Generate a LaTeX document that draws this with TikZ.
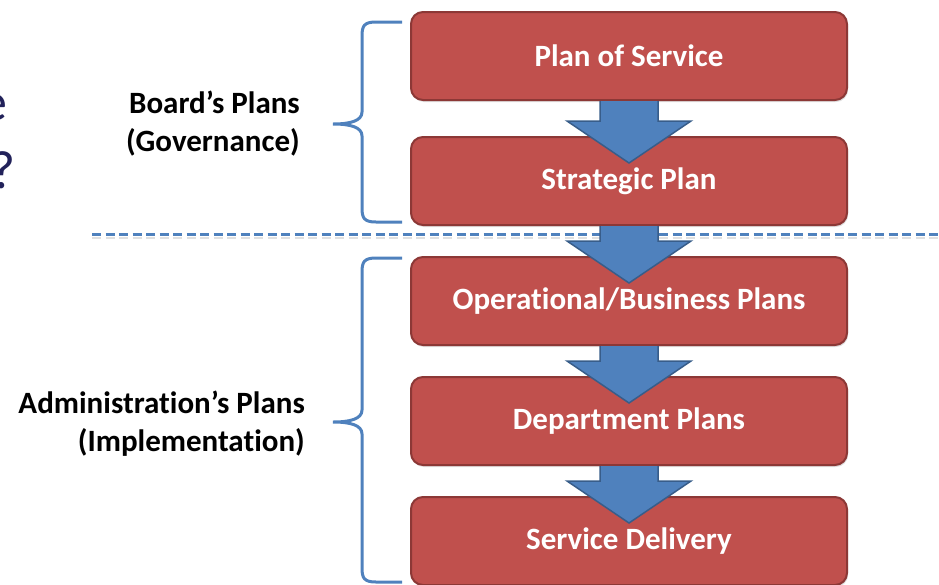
\documentclass[tikz,border=0pt]{standalone}
\usepackage{fontspec}
\setmainfont{Carlito}[Ligatures=NoCommon]
\usetikzlibrary{calc,shadows}

\definecolor{planred}{RGB}{192,80,77}
\definecolor{planedge}{RGB}{140,56,54}
\definecolor{flowblue}{RGB}{79,129,189}
\definecolor{flowedge}{RGB}{56,93,138}
\definecolor{titlenavy}{RGB}{34,34,90}

\tikzset{
  plan/.style={draw=planedge, line width=2pt, fill=planred, rounded corners=12pt,
    minimum width=436pt, minimum height=88pt, inner sep=0pt, text=white,
    font=\fontsize{31}{36}\selectfont\bfseries,
    drop shadow={opacity=0.25, shadow xshift=1pt, shadow yshift=-2pt}},
  owner/.style={inner sep=0pt, align=right, font=\fontsize{31}{38}\selectfont\bfseries},
  bracket/.style={draw=flowblue, line width=3pt},
  split/.style={draw=flowblue, line width=3pt, dash pattern=on 9pt off 4.5pt},
  flowfill/.style={fill=flowblue},
  flowline/.style={draw=flowedge, line width=1.5pt, line join=miter},
  title/.style={inner sep=0pt, text=titlenavy, font=\fontsize{54}{64}\selectfont}
}

\begin{document}
\begin{tikzpicture}[x=1pt, y=-1pt]
  \useasboundingbox (0,0) rectangle (939,584);

  % Cut-off title on the left
  \node[title, anchor=base east] (titleA) at (8,120) {e};
  \node[title, anchor=base east] (titleB) at (16,188) {?};

  % Split between governance and implementation
  \draw[split, draw=black!12, line width=2pt] (92,238) -- (939,238);
  \draw[split] (92,234) -- (939,234);

  % Plans
  \node[plan] (p1) at (629,56)  {Plan of Service};
  \node[plan] (p2) at (629,181) {Strategic Plan};
  \node[plan] (p3) at (629,301) {Operational/Business Plans};
  \node[plan] (p4) at (629,421) {Department Plans};
  \node[plan] (p5) at (629,541) {Service Delivery};

  % Block arrows from plan to plan
  \foreach \a/\b in {p1/p2,p2/p3,p3/p4,p4/p5} {
    \fill[flowfill] ($(\a.south)+(-29,0)$) -- ($(\b.north)+(-29,-15)$) -- ($(\b.north)+(-62,-15)$)
      -- ($(\b.north)+(0,27)$) -- ($(\b.north)+(62,-15)$) -- ($(\b.north)+(29,-15)$)
      -- ($(\a.south)+(29,0)$) -- cycle;
    \draw[flowline] ($(\a.south)+(-29,0)$) -- ($(\b.north)+(-29,-15)$) -- ($(\b.north)+(-62,-15)$)
      -- ($(\b.north)+(0,27)$) -- ($(\b.north)+(62,-15)$) -- ($(\b.north)+(29,-15)$)
      -- ($(\a.south)+(29,0)$);
  }

  % Braces
  \draw[bracket] (402,22) -- (376,22) .. controls (364,22) and (362,26) .. (362,36) -- (362,112)
    .. controls (362,121) and (350,124) .. (333,124) .. controls (350,124) and (362,127) .. (362,136)
    -- (362,208) .. controls (362,218) and (364,222) .. (376,222) -- (402,222);
  \draw[bracket] (402,258) -- (376,258) .. controls (364,258) and (362,262) .. (362,272) -- (362,410)
    .. controls (362,419) and (350,422) .. (333,422) .. controls (350,422) and (362,425) .. (362,434)
    -- (362,568) .. controls (362,578) and (364,582) .. (376,582) -- (402,582);

  % Owners of the plans
  \node[owner, anchor=east] (board) at (300,124) {Board’s Plans\\(Governance)};
  \node[owner, anchor=east] (admin) at (305,424) {Administration’s Plans\\(Implementation)};
\end{tikzpicture}
\end{document}
